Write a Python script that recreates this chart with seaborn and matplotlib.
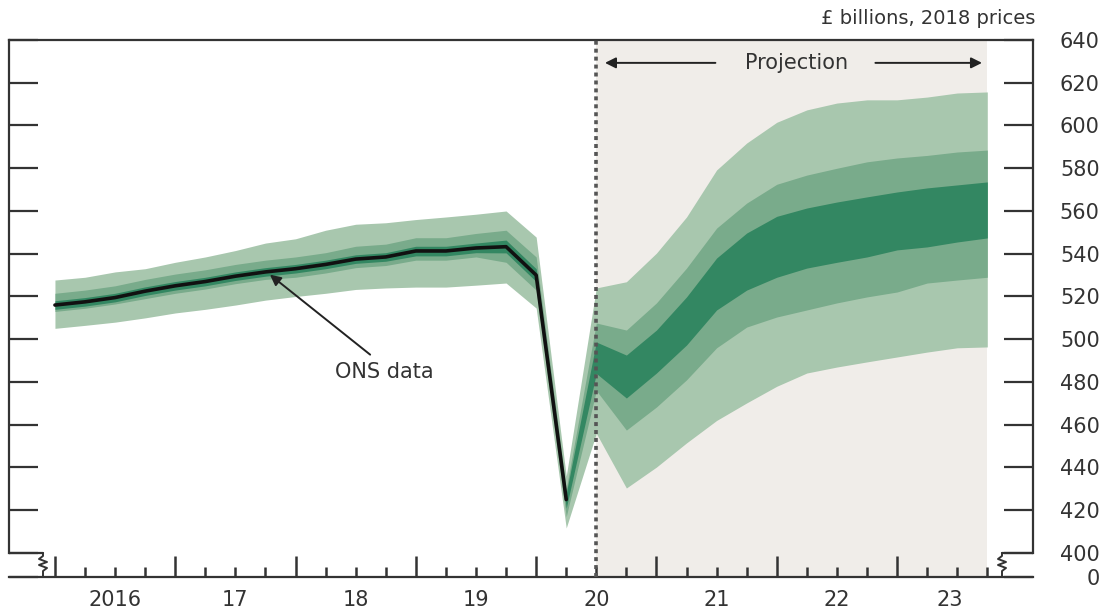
import numpy as np
import pandas as pd
import matplotlib
matplotlib.use("Agg")
import matplotlib.pyplot as plt
import seaborn as sns

# ---------------- data ----------------
# ONS GDP (quarterly, £ billions, 2018 prices)
hist_q = [2016.0, 2016.25, 2016.5, 2016.75, 2017.0, 2017.25, 2017.5, 2017.75,
          2018.0, 2018.25, 2018.5, 2018.75, 2019.0, 2019.25, 2019.5, 2019.75,
          2020.0, 2020.25]
ons_gdp = [516.0, 517.5, 519.5, 522.5, 525.0, 527.0, 529.5, 531.5,
           533.0, 535.0, 537.5, 538.5, 541.3, 541.3, 542.7, 543.3,
           530.0, 425.0]

# fan chart bands (backcast + projection)
fan_q = hist_q + [2020.5, 2020.75, 2021.0, 2021.25, 2021.5, 2021.75, 2022.0,
                  2022.25, 2022.5, 2022.75, 2023.0, 2023.25, 2023.5, 2023.75]
light_hi = [527.7, 529.0, 531.5, 533.0, 536.0, 538.5, 541.5, 545.0, 547.0, 551.0,
            553.8, 554.5, 556.0, 557.2, 558.5, 560.0, 547.8, 436.0,
            524.0, 526.9, 540.3, 557.2, 579.2, 591.8, 601.5, 607.3, 610.5, 612.0,
            612.0, 613.3, 615.2, 615.7]
light_lo = [505.1, 506.5, 508.0, 510.0, 512.3, 514.0, 516.0, 518.3, 520.0, 521.5,
            523.3, 524.0, 524.4, 524.4, 525.3, 526.3, 514.6, 411.7,
            456.0, 430.4, 440.2, 451.5, 462.0, 470.2, 478.0, 484.2, 487.0, 489.4,
            491.7, 494.0, 496.0, 496.4]
mid_hi = [521.5, 523.0, 525.0, 528.0, 530.5, 532.5, 535.0, 537.0, 538.5, 540.5,
          543.5, 544.5, 547.5, 547.5, 549.5, 551.0, 538.5, 430.0,
          507.6, 504.3, 517.0, 533.3, 552.0, 563.7, 572.5, 576.8, 580.0, 583.0,
          584.8, 586.0, 587.6, 588.5]
mid_lo = [513.0, 514.5, 516.5, 519.0, 521.5, 523.5, 526.0, 528.0, 529.0, 531.0,
          533.5, 534.5, 537.0, 537.0, 538.5, 536.0, 523.0, 417.0,
          476.0, 457.5, 468.3, 481.0, 496.0, 505.7, 510.4, 513.7, 517.0, 519.8,
          522.1, 526.3, 527.7, 529.0]
dark_hi = [518.0, 519.5, 521.5, 524.5, 527.0, 529.0, 531.5, 533.5, 535.0, 537.0,
           539.5, 540.5, 543.5, 543.5, 545.0, 546.4, 533.0, 428.0,
           498.7, 492.6, 504.3, 519.8, 538.0, 549.7, 557.5, 561.4, 564.2, 566.6,
           568.9, 570.8, 572.2, 573.6]
dark_lo = [514.0, 515.5, 517.5, 520.5, 523.0, 525.0, 527.5, 529.5, 531.0, 533.0,
           535.5, 536.5, 539.0, 539.0, 540.5, 540.4, 527.0, 421.0,
           484.0, 472.5, 484.2, 497.3, 513.7, 523.0, 529.0, 533.3, 536.0, 538.5,
           541.8, 543.2, 545.5, 547.4]

years = [2016, 2017, 2018, 2019, 2020, 2021, 2022, 2023]
year_labels = ["2016", "17", "18", "19", "20", "21", "22", "23"]
y_ticks = [400, 420, 440, 460, 480, 500, 520, 540, 560, 580, 600, 620, 640]

proj_start = 2020.5
proj_end = 2023.75

# ---------------- style ----------------
sns.set_theme(style="white")
plt.rcParams["font.family"] = ["DejaVu Sans"]
TXT = "#333333"
AX = "#333333"
LIGHT = "#A8C7AE"
MID = "#79AB8B"
DARK = "#338762"
SHADE = "#F0EDE9"

W, H = 1113, 612
fig = plt.figure(figsize=(W / 100, H / 100), dpi=100)
ax = fig.add_axes([9 / W, 1 - 577 / H, (1033 - 9) / W, (577 - 40) / H])

X0, X1 = 2015.618, 2024.13
Y_BASE = 388.77
ax.set_xlim(X0, X1)
ax.set_ylim(Y_BASE, 640)

# projection shading
ax.axvspan(proj_start, proj_end, color=SHADE, lw=0, zorder=0)

# fan bands
df = pd.DataFrame({"q": fan_q, "lh": light_hi, "ll": light_lo, "mh": mid_hi,
                   "ml": mid_lo, "dh": dark_hi, "dl": dark_lo})
ax.fill_between(df.q, df.ll, df.lh, color=LIGHT, lw=0, zorder=1)
ax.fill_between(df.q, df.ml, df.mh, color=MID, lw=0, zorder=2)
ax.fill_between(df.q, df.dl, df.dh, color=DARK, lw=0, zorder=3)

# ONS data line
sns.lineplot(x=hist_q, y=ons_gdp, ax=ax, color="#111111", lw=2.6, zorder=4)

# projection start
ax.axvline(proj_start, color="#555555", lw=2.6, ls=(0, (1.1, 1.1)), zorder=5)

# spines
for s in ["left", "right", "top", "bottom"]:
    ax.spines[s].set_color(AX)
    ax.spines[s].set_linewidth(1.6)
ax.spines["left"].set_bounds(400, 640)
ax.spines["right"].set_bounds(400, 640)

# broken-axis connectors and zigzags
px_x = 1 / 120.3
px_y = 20 / 42.79
xl = X0 + 34 * px_x
xr = X1 - 31 * px_x
ax.plot([X0, xl], [400, 400], color=AX, lw=1.6, clip_on=False, zorder=6)
ax.plot([xr, X1], [400, 400], color=AX, lw=1.6, clip_on=False, zorder=6)
d = 4 * px_x
for xc in (xl, xr):
    zx = [xc, xc, xc - d, xc + d, xc - d, xc + d, xc, xc]
    zy = [400, 400 - 3 * px_y, 400 - 6 * px_y, 400 - 9 * px_y, 400 - 12 * px_y,
          400 - 15 * px_y, 400 - 18 * px_y, Y_BASE]
    ax.plot(zx, zy, color=AX, lw=1.4, clip_on=False, zorder=6)

# y ticks (both sides, labels on right)
ax.set_yticks(y_ticks + [Y_BASE], labels=[str(v) for v in y_ticks] + ["0"])
ax.tick_params(axis="y", which="major", direction="in", length=21, width=1.6,
               color=AX, left=True, right=True, labelleft=False, labelright=True,
               pad=48, labelsize=15, labelcolor=TXT)
for lab in ax.get_yticklabels():
    lab.set_horizontalalignment("right")

# x ticks: tall at years, short at quarters
quarters = [y + q for y in years for q in (0.25, 0.5, 0.75)]
ax.set_xticks(years, labels=[""] * len(years))
ax.set_xticks(quarters, minor=True)
ax.tick_params(axis="x", which="major", direction="in", length=15, width=1.8,
               color=AX, bottom=True, top=False)
ax.tick_params(axis="x", which="minor", direction="in", length=7.5, width=1.8,
               color=AX, bottom=True, top=False)
xend = xr
for yr, lab in zip(years, year_labels):
    xc = (yr + min(yr + 1, xend)) / 2
    ax.text(xc, -23 / 537, lab, transform=ax.get_xaxis_transform(),
            ha="center", va="center", fontsize=15, color=TXT)

# units label
fig.text(1035 / W, 1 - 18 / H, "£ billions, 2018 prices", ha="right",
         va="center", fontsize=14, color=TXT)

# projection annotation
ya = 629.3
ax.text(2022.168, ya, "Projection", ha="center", va="center", fontsize=15,
        color=TXT, zorder=7)
ax.annotate("", xy=(2020.572, ya), xytext=(2021.49, ya),
            arrowprops=dict(arrowstyle="-|>", color="#222222", lw=1.4,
                            mutation_scale=16, shrinkA=0, shrinkB=0))
ax.annotate("", xy=(2023.706, ya), xytext=(2022.82, ya),
            arrowprops=dict(arrowstyle="-|>", color="#222222", lw=1.4,
                            mutation_scale=16, shrinkA=0, shrinkB=0))

# ONS data annotation
ax.annotate("", xy=(2017.787, 530.2), xytext=(2018.62, 492.8),
            arrowprops=dict(arrowstyle="-|>", color="#222222", lw=1.4,
                            mutation_scale=16, shrinkA=0, shrinkB=0), zorder=7)
ax.text(2018.735, 484.8, "ONS data", ha="center", va="center", fontsize=15,
        color=TXT)

fig.savefig("out.png", dpi=100)
